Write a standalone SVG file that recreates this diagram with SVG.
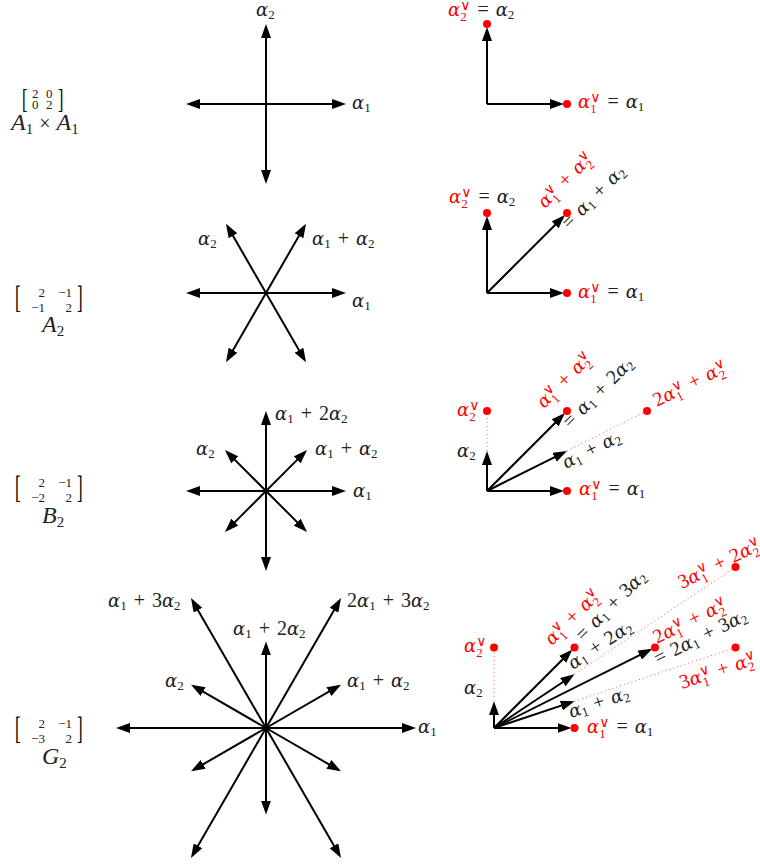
<svg xmlns="http://www.w3.org/2000/svg" width="760" height="867" viewBox="0 0 760 867">
<style>
.t{font-family:"Liberation Serif","DejaVu Serif",serif;font-size:20px;fill:#222}
.g{font-family:"DejaVu Serif",serif;font-style:italic;font-size:18px}
.n{font-family:"Liberation Serif",serif;font-style:italic;font-size:24px}
.s{font-family:"Liberation Serif",serif;font-size:13px}
.sn{font-family:"Liberation Serif",serif;font-size:15px}
.v{font-family:"DejaVu Sans",sans-serif;font-size:14px}
.r{fill:#f00}
.m{font-family:"Liberation Serif","DejaVu Serif",serif;font-size:13px;fill:#222}
.br{font-family:"Liberation Serif","DejaVu Serif",serif;fill:#000}
.ln{stroke:#000;stroke-width:2;fill:none;marker-end:url(#ah)}
.dt{stroke:#f55;stroke-width:1;stroke-dasharray:1 3;fill:none}
.dot{fill:#f00}
</style>
<defs>
<marker id="ah" viewBox="0 0 14 10" refX="11" refY="5" markerWidth="14" markerHeight="10" markerUnits="userSpaceOnUse" orient="auto"><path d="M0,0 L14,5 L0,10 z" fill="#000"/></marker>
</defs>

<g id="connectors">
<line class="ln" x1="266" y1="104" x2="343" y2="104"/>
<line class="ln" x1="266" y1="104" x2="189" y2="104"/>
<line class="ln" x1="266" y1="104" x2="266" y2="27"/>
<line class="ln" x1="266" y1="104" x2="266" y2="181"/>
<line class="ln" x1="487" y1="104" x2="561" y2="104"/>
<line class="ln" x1="487" y1="104" x2="487" y2="30"/>
<line class="ln" x1="266" y1="293" x2="343" y2="293"/>
<line class="ln" x1="266" y1="293" x2="189" y2="293"/>
<line class="ln" x1="266" y1="293" x2="304.5" y2="226.3"/>
<line class="ln" x1="266" y1="293" x2="227.5" y2="226.3"/>
<line class="ln" x1="266" y1="293" x2="227.5" y2="359.7"/>
<line class="ln" x1="266" y1="293" x2="304.5" y2="359.7"/>
<line class="ln" x1="487" y1="293" x2="561" y2="293"/>
<line class="ln" x1="487" y1="293" x2="487" y2="219"/>
<line class="ln" x1="487" y1="293" x2="562.8" y2="217.2"/>
<line class="ln" x1="266" y1="491" x2="343" y2="491"/>
<line class="ln" x1="266" y1="491" x2="189" y2="491"/>
<line class="ln" x1="266" y1="491" x2="266" y2="414"/>
<line class="ln" x1="266" y1="491" x2="266" y2="568"/>
<line class="ln" x1="266" y1="491" x2="304.9" y2="452.1"/>
<line class="ln" x1="266" y1="491" x2="227.1" y2="452.1"/>
<line class="ln" x1="266" y1="491" x2="227.1" y2="529.9"/>
<line class="ln" x1="266" y1="491" x2="304.9" y2="529.9"/>
<line class="dt" x1="487" y1="451" x2="487" y2="411"/>
<line class="dt" x1="567" y1="451" x2="647" y2="411"/>
<line class="ln" x1="487" y1="491" x2="561" y2="491"/>
<line class="ln" x1="487" y1="491" x2="487" y2="454"/>
<line class="ln" x1="487" y1="491" x2="562.8" y2="415.2"/>
<line class="ln" x1="487" y1="491" x2="564.3" y2="452.3"/>
<line class="ln" x1="266" y1="728" x2="413" y2="728"/>
<line class="ln" x1="266" y1="728" x2="119" y2="728"/>
<line class="ln" x1="266" y1="728" x2="266" y2="644.4"/>
<line class="ln" x1="266" y1="728" x2="266" y2="811.6"/>
<line class="ln" x1="266" y1="728" x2="193.6" y2="686.2"/>
<line class="ln" x1="266" y1="728" x2="338.4" y2="686.2"/>
<line class="ln" x1="266" y1="728" x2="338.4" y2="769.8"/>
<line class="ln" x1="266" y1="728" x2="193.6" y2="769.8"/>
<line class="ln" x1="266" y1="728" x2="192.5" y2="600.7"/>
<line class="ln" x1="266" y1="728" x2="339.5" y2="600.7"/>
<line class="ln" x1="266" y1="728" x2="339.5" y2="855.3"/>
<line class="ln" x1="266" y1="728" x2="192.5" y2="855.3"/>
<line class="dt" x1="494" y1="701.2" x2="494" y2="647.5"/>
<line class="dt" x1="574.5" y1="701.2" x2="735.5" y2="647.5"/>
<line class="dt" x1="574.5" y1="674.3" x2="735.5" y2="567"/>
<line class="ln" x1="494" y1="728" x2="568.5" y2="728"/>
<line class="ln" x1="494" y1="728" x2="494" y2="704.2"/>
<line class="ln" x1="494" y1="728" x2="571.7" y2="702.1"/>
<line class="ln" x1="494" y1="728" x2="572" y2="676"/>
<line class="ln" x1="494" y1="728" x2="570.3" y2="651.7"/>
<line class="ln" x1="494" y1="728" x2="649.6" y2="650.2"/>
</g>

<g id="A1A1-name">
<text class="br" font-size="27" transform="translate(22,108) scale(0.6,1)">[</text>
<text class="br" font-size="27" transform="translate(58,108) scale(0.6,1)">]</text>
<text class="m" font-size="11" x="32" y="98">2</text><text class="m" x="46" y="98" font-size="11">0</text>
<text class="m" font-size="11" x="32" y="109">0</text><text class="m" x="46" y="109" font-size="11">2</text>
<text class="t" x="11" y="130"><tspan class="n">A</tspan><tspan class="sn" dy="4">1</tspan><tspan dy="-4" dx="6">×</tspan><tspan class="n" dx="6">A</tspan><tspan class="sn" dy="4">1</tspan></text>
</g>
<g id="A2-name">
<text class="br" font-size="31" transform="translate(15,308) scale(0.55,1)">[</text>
<text class="br" font-size="31" transform="translate(77,308) scale(0.55,1)">]</text>
<text class="m" text-anchor="end" x="45" y="297">2</text><text class="m" text-anchor="end" x="72" y="297">−1</text>
<text class="m" text-anchor="end" x="45" y="312">−1</text><text class="m" text-anchor="end" x="72" y="312">2</text>
<text class="t" x="42" y="332"><tspan class="n">A</tspan><tspan class="sn" dy="4">2</tspan></text>
</g>
<g id="B2-name">
<text class="br" font-size="31" transform="translate(15,498) scale(0.55,1)">[</text>
<text class="br" font-size="31" transform="translate(77,498) scale(0.55,1)">]</text>
<text class="m" text-anchor="end" x="45" y="487">2</text><text class="m" text-anchor="end" x="72" y="487">−1</text>
<text class="m" text-anchor="end" x="45" y="502">−2</text><text class="m" text-anchor="end" x="72" y="502">2</text>
<text class="t" x="42" y="523"><tspan class="n">B</tspan><tspan class="sn" dy="4">2</tspan></text>
</g>
<g id="G2-name">
<text class="br" font-size="31" transform="translate(15,739) scale(0.55,1)">[</text>
<text class="br" font-size="31" transform="translate(77,739) scale(0.55,1)">]</text>
<text class="m" text-anchor="end" x="45" y="728">2</text><text class="m" text-anchor="end" x="72" y="728">−1</text>
<text class="m" text-anchor="end" x="45" y="743">−3</text><text class="m" text-anchor="end" x="72" y="743">2</text>
<text class="t" x="42" y="764"><tspan class="n">G</tspan><tspan class="sn" dy="4">2</tspan></text>
</g>

<g id="A1A1-roots">
<text class="t" x="256" y="16"><tspan class="g">α</tspan><tspan class="s" dy="3">2</tspan></text>
<text class="t" x="352" y="109"><tspan class="g">α</tspan><tspan class="s" dy="3">1</tspan></text>
</g>
<g id="A1A1-coroots">
<circle class="dot" cx="567" cy="104" r="4"/>
<circle class="dot" cx="487" cy="24" r="4"/>
<text class="t" x="448" y="16"><tspan class="g r">α</tspan><tspan class="s r" dy="5">2</tspan><tspan class="v r" dx="-6.5" dy="-11">∨</tspan><tspan dy="6" dx="7">=</tspan><tspan class="g" dx="7">α</tspan><tspan class="s" dy="3">2</tspan></text>
<text class="t" x="578" y="108"><tspan class="g r">α</tspan><tspan class="s r" dy="5">1</tspan><tspan class="v r" dx="-6.5" dy="-11">∨</tspan><tspan dy="6" dx="7">=</tspan><tspan class="g" dx="7">α</tspan><tspan class="s" dy="3">1</tspan></text>
</g>

<g id="A2-roots">
<text class="t" x="198" y="245"><tspan class="g">α</tspan><tspan class="s" dy="3">2</tspan></text>
<text class="t" x="312" y="245"><tspan class="g">α</tspan><tspan class="s" dy="3">1</tspan><tspan dy="-3" dx="7">+</tspan><tspan class="g" dx="7">α</tspan><tspan class="s" dy="3">2</tspan></text>
<text class="t" x="352" y="307"><tspan class="g">α</tspan><tspan class="s" dy="3">1</tspan></text>
</g>
<g id="A2-coroots">
<circle class="dot" cx="567" cy="293" r="4"/>
<circle class="dot" cx="487" cy="213" r="4"/>
<circle class="dot" cx="567" cy="213" r="4"/>
<text class="t" x="449" y="203"><tspan class="g r">α</tspan><tspan class="s r" dy="5">2</tspan><tspan class="v r" dx="-6.5" dy="-11">∨</tspan><tspan dy="6" dx="7">=</tspan><tspan class="g" dx="7">α</tspan><tspan class="s" dy="3">2</tspan></text>
<text class="t" x="578" y="298"><tspan class="g r">α</tspan><tspan class="s r" dy="5">1</tspan><tspan class="v r" dx="-6.5" dy="-11">∨</tspan><tspan dy="6" dx="7">=</tspan><tspan class="g" dx="7">α</tspan><tspan class="s" dy="3">1</tspan></text>
<text class="t r" transform="translate(545,209) rotate(-45)"><tspan class="g">α</tspan><tspan class="s" dy="5">1</tspan><tspan class="v" dx="-6.5" dy="-11">∨</tspan><tspan dy="6" dx="7">+</tspan><tspan class="g" dx="7">α</tspan><tspan class="s" dy="5">2</tspan><tspan class="v" dx="-6.5" dy="-11">∨</tspan></text>
<text class="t" transform="translate(569,230) rotate(-45)"><tspan>=</tspan><tspan class="g" dx="7">α</tspan><tspan class="s" dy="3">1</tspan><tspan dy="-3" dx="7">+</tspan><tspan class="g" dx="7">α</tspan><tspan class="s" dy="3">2</tspan></text>
</g>

<g id="B2-roots">
<text class="t" x="275" y="420"><tspan class="g">α</tspan><tspan class="s" dy="3">1</tspan><tspan dy="-3" dx="7">+</tspan><tspan dx="7">2</tspan><tspan class="g">α</tspan><tspan class="s" dy="3">2</tspan></text>
<text class="t" x="196" y="455"><tspan class="g">α</tspan><tspan class="s" dy="3">2</tspan></text>
<text class="t" x="315" y="455"><tspan class="g">α</tspan><tspan class="s" dy="3">1</tspan><tspan dy="-3" dx="7">+</tspan><tspan class="g" dx="7">α</tspan><tspan class="s" dy="3">2</tspan></text>
<text class="t" x="353" y="497"><tspan class="g">α</tspan><tspan class="s" dy="3">1</tspan></text>
</g>
<g id="B2-coroots">
<circle class="dot" cx="567" cy="491" r="4"/>
<circle class="dot" cx="487" cy="411" r="4"/>
<circle class="dot" cx="567" cy="411" r="4"/>
<circle class="dot" cx="647" cy="411" r="4"/>
<text class="t r" x="457" y="416"><tspan class="g">α</tspan><tspan class="s" dy="5">2</tspan><tspan class="v" dx="-6.5" dy="-11">∨</tspan></text>
<text class="t" x="457" y="457"><tspan class="g">α</tspan><tspan class="s" dy="3">2</tspan></text>
<text class="t" x="579" y="495"><tspan class="g r">α</tspan><tspan class="s r" dy="5">1</tspan><tspan class="v r" dx="-6.5" dy="-11">∨</tspan><tspan dy="6" dx="7">=</tspan><tspan class="g" dx="7">α</tspan><tspan class="s" dy="3">1</tspan></text>
<text class="t r" transform="translate(544,409) rotate(-45)"><tspan class="g">α</tspan><tspan class="s" dy="5">1</tspan><tspan class="v" dx="-6.5" dy="-11">∨</tspan><tspan dy="6" dx="7">+</tspan><tspan class="g" dx="7">α</tspan><tspan class="s" dy="5">2</tspan><tspan class="v" dx="-6.5" dy="-11">∨</tspan></text>
<text class="t" transform="translate(570,429) rotate(-45)"><tspan>=</tspan><tspan class="g" dx="7">α</tspan><tspan class="s" dy="3">1</tspan><tspan dy="-3" dx="7">+</tspan><tspan dx="7">2</tspan><tspan class="g">α</tspan><tspan class="s" dy="3">2</tspan></text>
<text class="t r" transform="translate(657,407) rotate(-26.57)"><tspan>2</tspan><tspan class="g">α</tspan><tspan class="s" dy="5">1</tspan><tspan class="v" dx="-6.5" dy="-11">∨</tspan><tspan dy="6" dx="7">+</tspan><tspan class="g" dx="7">α</tspan><tspan class="s" dy="5">2</tspan><tspan class="v" dx="-6.5" dy="-11">∨</tspan></text>
<text class="t" transform="translate(566,469) rotate(-26.57)"><tspan class="g">α</tspan><tspan class="s" dy="3">1</tspan><tspan dy="-3" dx="7">+</tspan><tspan class="g" dx="7">α</tspan><tspan class="s" dy="3">2</tspan></text>
</g>

<g id="G2-roots">
<text class="t" x="108" y="607"><tspan class="g">α</tspan><tspan class="s" dy="3">1</tspan><tspan dy="-3" dx="7">+</tspan><tspan dx="7">3</tspan><tspan class="g">α</tspan><tspan class="s" dy="3">2</tspan></text>
<text class="t" x="347" y="607"><tspan>2</tspan><tspan class="g">α</tspan><tspan class="s" dy="3">1</tspan><tspan dy="-3" dx="7">+</tspan><tspan dx="7">3</tspan><tspan class="g">α</tspan><tspan class="s" dy="3">2</tspan></text>
<text class="t" x="233" y="635"><tspan class="g">α</tspan><tspan class="s" dy="3">1</tspan><tspan dy="-3" dx="7">+</tspan><tspan dx="7">2</tspan><tspan class="g">α</tspan><tspan class="s" dy="3">2</tspan></text>
<text class="t" x="165" y="687"><tspan class="g">α</tspan><tspan class="s" dy="3">2</tspan></text>
<text class="t" x="347" y="687"><tspan class="g">α</tspan><tspan class="s" dy="3">1</tspan><tspan dy="-3" dx="7">+</tspan><tspan class="g" dx="7">α</tspan><tspan class="s" dy="3">2</tspan></text>
<text class="t" x="418" y="733"><tspan class="g">α</tspan><tspan class="s" dy="3">1</tspan></text>
</g>
<g id="G2-coroots">
<circle class="dot" cx="574.5" cy="728" r="4"/>
<circle class="dot" cx="494" cy="647.5" r="4"/>
<circle class="dot" cx="574.5" cy="647.5" r="4"/>
<circle class="dot" cx="655" cy="647.5" r="4"/>
<circle class="dot" cx="735.5" cy="647.5" r="4"/>
<circle class="dot" cx="735.5" cy="567" r="4"/>
<text class="t r" x="464" y="652"><tspan class="g">α</tspan><tspan class="s" dy="5">2</tspan><tspan class="v" dx="-6.5" dy="-11">∨</tspan></text>
<text class="t" x="464" y="694"><tspan class="g">α</tspan><tspan class="s" dy="3">2</tspan></text>
<text class="t" x="587" y="733"><tspan class="g r">α</tspan><tspan class="s r" dy="5">1</tspan><tspan class="v r" dx="-6.5" dy="-11">∨</tspan><tspan dy="6" dx="7">=</tspan><tspan class="g" dx="7">α</tspan><tspan class="s" dy="3">1</tspan></text>
<text class="t r" transform="translate(552,646) rotate(-45)"><tspan class="g">α</tspan><tspan class="s" dy="5">1</tspan><tspan class="v" dx="-6.5" dy="-11">∨</tspan><tspan dy="6" dx="7">+</tspan><tspan class="g" dx="7">α</tspan><tspan class="s" dy="5">2</tspan><tspan class="v" dx="-6.5" dy="-11">∨</tspan></text>
<text class="t" transform="translate(583,642) rotate(-45)"><tspan>=</tspan><tspan class="g" dx="7">α</tspan><tspan class="s" dy="3">1</tspan><tspan dy="-3" dx="7">+</tspan><tspan dx="7">3</tspan><tspan class="g">α</tspan><tspan class="s" dy="3">2</tspan></text>
<text class="t" transform="translate(573,670) rotate(-33.69)"><tspan class="g">α</tspan><tspan class="s" dy="3">1</tspan><tspan dy="-3" dx="7">+</tspan><tspan dx="7">2</tspan><tspan class="g">α</tspan><tspan class="s" dy="3">2</tspan></text>
<text class="t r" transform="translate(657,644) rotate(-26.57)"><tspan>2</tspan><tspan class="g">α</tspan><tspan class="s" dy="5">1</tspan><tspan class="v" dx="-6.5" dy="-11">∨</tspan><tspan dy="6" dx="7">+</tspan><tspan class="g" dx="7">α</tspan><tspan class="s" dy="5">2</tspan><tspan class="v" dx="-6.5" dy="-11">∨</tspan></text>
<text class="t" transform="translate(658,665) rotate(-26.57)"><tspan>=</tspan><tspan dx="7">2</tspan><tspan class="g">α</tspan><tspan class="s" dy="3">1</tspan><tspan dy="-3" dx="7">+</tspan><tspan dx="7">3</tspan><tspan class="g">α</tspan><tspan class="s" dy="3">2</tspan></text>
<text class="t r" transform="translate(682,589) rotate(-26.57)"><tspan>3</tspan><tspan class="g">α</tspan><tspan class="s" dy="5">1</tspan><tspan class="v" dx="-6.5" dy="-11">∨</tspan><tspan dy="6" dx="7">+</tspan><tspan dx="7">2</tspan><tspan class="g">α</tspan><tspan class="s" dy="5">2</tspan><tspan class="v" dx="-6.5" dy="-11">∨</tspan></text>
<text class="t r" transform="translate(682,689) rotate(-18.43)"><tspan>3</tspan><tspan class="g">α</tspan><tspan class="s" dy="5">1</tspan><tspan class="v" dx="-6.5" dy="-11">∨</tspan><tspan dy="6" dx="7">+</tspan><tspan class="g" dx="7">α</tspan><tspan class="s" dy="5">2</tspan><tspan class="v" dx="-6.5" dy="-11">∨</tspan></text>
<text class="t" transform="translate(571,718) rotate(-18.43)"><tspan class="g">α</tspan><tspan class="s" dy="3">1</tspan><tspan dy="-3" dx="7">+</tspan><tspan class="g" dx="7">α</tspan><tspan class="s" dy="3">2</tspan></text>
</g>
</svg>
